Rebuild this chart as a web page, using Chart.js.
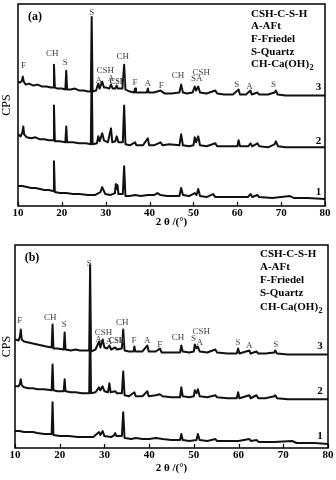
<!DOCTYPE html>
<html lang="en">
<head>
<meta charset="UTF-8">
<title>XRD patterns (a) and (b)</title>
<style>
  body { margin: 0; background: #fff; }
  canvas { position: absolute; left: 0; }
</style>
<script src="https://cdn.jsdelivr.net/npm/chart.js"></script>
</head>
<body>
<canvas id="chartA" width="336" height="240" style="top:0"></canvas>
<canvas id="chartB" width="336" height="240" style="top:240px"></canvas>
<script>
// ---- data: [2theta, intensity (CPS, arbitrary, curves offset as in the figure)] ----
// panel (a)
const a3 = [[10,125],[10.5,124],[10.9,126],[11.1,130],[11.3,125],[11.8,122],[12.5,123],[13.5,121],[14.5,122],[15.5,120],[16.5,120],[17.5,119],[18,119],[18.2,142],[18.4,119],[19,118],[20,118],[20.8,117],[21,136],[21.2,117],[22,117],[23,118],[24,116],[25,116],[26,115],[26.6,115],[26.8,190],[27,115],[27.8,116],[28.3,123],[28.6,118],[29.2,125],[29.6,119],[30.2,119],[30.8,118],[31.2,122],[31.6,118],[32.2,118],[32.5,121],[32.8,118],[33.8,118],[34.2,142],[34.5,117],[35.5,115],[36.5,114],[36.7,118],[36.9,114],[38,114],[39.4,114],[39.6,118],[39.8,114],[41,114],[42.5,116],[43.5,113],[45,113],[46.8,114],[47.2,122],[47.6,114],[48.5,113],[49.8,114],[50.3,120],[50.6,116],[51.1,120],[51.5,114],[53,113],[55,116],[55.4,113],[57,112],[59,112],[60.3,117],[60.6,112],[62,112],[63,116],[63.3,112],[64.6,114],[65,112],[67,112],[68.5,114],[68.8,116],[69.2,112],[71,111],[73,111],[76,111],[80,111]];
const a2 = [[10,72],[10.6,70],[11,74],[11.2,80],[11.4,72],[12,69],[13,68],[14,69],[15,67],[16,67],[17,66],[18,66],[18.2,101],[18.4,65],[19.5,65],[20.8,64],[21,80],[21.2,64],[22.5,64],[24,63],[25.5,63],[26.6,62],[26.8,137],[27,62],[28,63],[28.3,70],[28.6,65],[29.2,73],[29.6,66],[30.5,64],[31.2,78],[31.5,64],[32.2,65],[32.5,70],[32.9,64],[33.9,64],[34.2,101],[34.5,62],[35.5,61],[36.7,64],[37,61],[38.5,61],[39.6,68],[39.9,61],[41,61],[42.5,64],[43,61],[44.5,62],[46.8,61],[47.2,72],[47.6,61],[49,60],[50,61],[50.3,69],[50.6,64],[51.1,70],[51.5,61],[53,60],[55,63],[55.4,60],[57.5,60],[60,60],[60.3,66],[60.6,60],[62.5,60],[63,63],[63.4,60],[64.6,63],[65,60],[67,59],[68.5,62],[68.8,65],[69.3,60],[71,59],[74,59],[77,59],[80,59]];
const a1 = [[10,20],[11,20],[12,19],[13,18],[14,18],[15,17],[16,16],[17,16],[18,15],[18.2,45],[18.4,14],[19.5,13],[21,13],[22.5,12],[24,12],[26,11],[27.5,11],[28.8,14],[29.2,19],[29.5,16],[29.9,12],[31,11],[32.1,13],[32.3,22],[32.5,17],[32.7,21],[32.9,12],[33.9,12],[34.2,40],[34.5,10],[35.5,10],[36.7,11],[38,10],[39.6,11],[41,11],[41.8,13],[42.5,11],[44,10],[46.8,10],[47.2,18],[47.6,11],[49,10],[50.3,13],[50.7,11],[51.1,17],[51.5,10],[53,9],[54.5,12],[55,9],[57,9],[60,9],[62.4,9],[63,12],[63.4,9],[64.6,11],[65,9],[68,8],[72,10],[73,8],[76,8],[80,7]];
// panel (b)
const b3 = [[10,109],[10.8,108],[11.1,112],[11.3,119],[11.5,109],[12,107],[13,106],[14,105],[15,104],[16,103],[17,102],[18.2,101],[18.4,124],[18.6,100],[19.5,100],[20.9,99],[21.1,116],[21.3,99],[22.5,98],[23.5,99],[24.5,98],[26,98],[26.6,98],[26.8,184],[27,97],[28,99],[28.8,107],[29.1,101],[29.6,109],[30,101],[30.6,100],[31.1,103],[31.5,99],[32.4,101],[32.8,99],[33.9,100],[34.2,119],[34.5,98],[35.5,97],[36.5,97],[36.7,102],[36.9,97],[38.5,97],[39.6,103],[39.9,97],[41.5,97],[42.4,100],[42.8,96],[45,96],[46.9,96],[47.2,103],[47.5,97],[49,96],[50,97],[50.2,104],[50.6,100],[50.9,102],[51.3,97],[53,96],[54.8,99],[55.2,96],[57.5,95],[59.6,95],[59.9,100],[60.2,95],[62.4,98],[62.7,95],[64,97],[64.4,95],[66,95],[68,96],[68.2,98],[68.6,95],[71,94],[74,94],[77,94],[80,94]];
const b2 = [[10,62],[10.8,62],[11.1,65],[11.3,69],[11.5,63],[12,61],[13,60],[14,60],[15,59],[16.5,59],[18.2,58],[18.4,84],[18.6,58],[19.5,57],[20.9,57],[21.1,69],[21.3,57],[22.5,56],[23.5,56],[25,55],[26.6,55],[26.8,129],[27,55],[28,56],[28.8,61],[29.1,58],[29.6,62],[30,57],[30.8,56],[31.1,65],[31.4,56],[32.4,57],[32.8,55],[33.9,55],[34.2,77],[34.5,53],[35.5,52],[36.7,56],[37,52],[38.5,52],[39.6,57],[39.9,52],[41.5,53],[42.4,54],[43,52],[45,51],[46.9,51],[47.2,61],[47.5,52],[49,51],[50,52],[50.2,58],[50.6,55],[50.9,59],[51.3,52],[53,51],[54.8,53],[55.2,51],[57.5,50],[59.6,50],[59.9,56],[60.2,50],[62.4,53],[62.7,50],[64,53],[64.4,50],[66,50],[68,52],[68.2,53],[68.6,50],[71,49],[74,49],[77,49],[80,49]];
const b1 = [[10,17],[11,17],[12,16],[13,16],[14,16],[15,15],[16.5,14],[18.2,14],[18.4,46],[18.6,13],[20,12],[22,12],[24,11],[26,11],[27.5,11],[28.8,16],[29.1,13],[29.6,17],[30,12],[31.5,11],[32.2,13],[32.4,15],[32.7,12],[33.9,12],[34.2,36],[34.5,10],[36,9],[37,10],[38.5,9],[40,9],[41.5,10],[43,9],[45,8],[46.9,8],[47.2,14],[47.5,8],[49,7],[50.6,8],[50.9,14],[51.3,8],[53,7],[54.8,9],[55.2,7],[58,7],[60,7],[62.4,9],[62.8,7],[64,8],[64.5,6],[68,6],[72,7],[73,5],[77,5],[80,4]];

// phase labels above the peaks
const aNoteText = ['F','CH','S','S','A','CSH','A','CSH','CH','F','A','F','CH','S','A','CSH','S','A','S'];
const aNotePos  = [11.25,17.8,20.8,26.8,28.4,29.9,31.2,32.75,33.9,36.7,39.6,42.65,46.5,50.0,51.3,51.8,59.9,62.8,68.25];
const aNoteLvl  = [141,153,144,194,126,136,128,125,150,124,123,121,131,128,128,134,122,120,122];
const bNoteText = aNoteText;
const bNotePos  = [11.05,17.9,21.0,26.6,28.7,29.8,31.0,32.75,34.0,36.6,39.55,42.4,46.45,49.9,51.3,51.65,59.9,62.4,68.3];
const bNoteLvl  = [128,131,124,185,109,116,107,108,126,108,108,104,111,110,106,117,106,103,104];
const curveNames = ['1','2','3'];
const aNameLvl = [14,65,119];
const bNameLvl = [12,57,102];
const legendRows = ['CSH-C-S-H','A-AFt','F-Friedel','S-Quartz','CH-Ca(OH)'];
const xTicks = [10,20,30,40,50,60,70,80];

const serif = '"Liberation Serif", "Times New Roman", serif';

const xrdDecor = {
  id: 'xrdDecor',
  afterDraw(chart, args, o) {
    const { ctx, chartArea: a, scales: { x, y } } = chart;
    ctx.save();
    // frame
    ctx.strokeStyle = '#000';
    ctx.lineWidth = 1.5;
    ctx.strokeRect(a.left, a.top, a.right - a.left, a.bottom - a.top);
    // inward tick marks
    ctx.lineWidth = 1.2;
    xTicks.forEach(v => {
      const px = Math.round(x.getPixelForValue(v)) + 0.5;
      ctx.beginPath();
      ctx.moveTo(px, a.bottom);
      ctx.lineTo(px, a.bottom - 4);
      ctx.stroke();
    });
    // peak labels
    ctx.textAlign = 'center';
    ctx.textBaseline = 'middle';
    ctx.fillStyle = '#444';
    o.text.forEach((t, i) => {
      ctx.font = (t === 'CSH' && i === 7) ? 'bold 8px ' + serif : '9px ' + serif;
      ctx.fillText(t, x.getPixelForValue(o.pos[i]), y.getPixelForValue(o.lvl[i]));
    });
    // curve numbers
    ctx.fillStyle = '#000';
    ctx.font = 'bold 11px ' + serif;
    curveNames.forEach((n, i) => ctx.fillText(n, x.getPixelForValue(o.nameX), y.getPixelForValue(o.nameLvl[i])));
    // panel tag
    ctx.font = 'bold 12px ' + serif;
    ctx.fillText(o.tag, a.left + 17, a.top + 13);
    // legend
    ctx.textAlign = 'left';
    ctx.font = 'bold 11px ' + serif;
    legendRows.forEach((r, i) => {
      const ty = a.top + o.legTop + i * o.legStep;
      ctx.fillText(r, o.legX, ty);
      if (i === legendRows.length - 1) {
        const w = ctx.measureText(r).width;
        ctx.font = 'bold 8px ' + serif;
        ctx.fillText('2', o.legX + w + 0.5, ty + 4);
      }
    });
    // y title
    ctx.font = '12px ' + serif;
    ctx.textAlign = 'center';
    ctx.save();
    ctx.translate(7, (a.top + a.bottom) / 2);
    ctx.rotate(-Math.PI / 2);
    ctx.fillText('CPS', 0, 0);
    ctx.restore();
    // x title
    ctx.font = 'bold 11px ' + serif;
    ctx.fillText('2 θ /(°)', (a.left + a.right) / 2, a.bottom + o.titleGap);
    ctx.restore();
  }
};

function makeSet(points) {
  return {
    data: points.map(([x, y]) => ({ x, y })),
    borderColor: '#111',
    borderWidth: 2,
    borderJoinStyle: 'round',
    pointRadius: 0,
    tension: 0,
    fill: false
  };
}

function makeChart(id, curves, yMax, pad, deco) {
  return new Chart(document.getElementById(id), {
    type: 'line',
    data: { datasets: curves.map(makeSet) },
    options: {
      responsive: false,
      animation: false,
      devicePixelRatio: 1,
      layout: { padding: pad },
      scales: {
        x: {
          type: 'linear', min: 10, max: 80,
          afterBuildTicks: s => { s.ticks = xTicks.map(v => ({ value: v })); },
          ticks: { color: '#000', font: { family: serif, size: 11, weight: 'bold' }, padding: 1, maxRotation: 0, autoSkip: false },
          grid: { display: false, drawTicks: false },
          border: { display: false }
        },
        y: { min: 0, max: yMax, display: false }
      },
      plugins: { legend: { display: false }, tooltip: { enabled: false }, xrdDecor: deco }
    },
    plugins: [xrdDecor]
  });
}

makeChart('chartA', [a1, a2, a3], 203, { left: 18, right: 11, top: 4, bottom: 18.8 }, {
  text: aNoteText, pos: aNotePos, lvl: aNoteLvl, nameX: 78.5, nameLvl: aNameLvl,
  tag: '(a)', legX: 251, legTop: 10, legStep: 12.6, titleGap: 16
});
makeChart('chartB', [b1, b2, b3], 204, { left: 15, right: 8, top: 5, bottom: 16.8 }, {
  text: bNoteText, pos: bNotePos, lvl: bNoteLvl, nameX: 78.2, nameLvl: bNameLvl,
  tag: '(b)', legX: 260, legTop: 9, legStep: 13.2, titleGap: 20
});
</script>
</body>
</html>
